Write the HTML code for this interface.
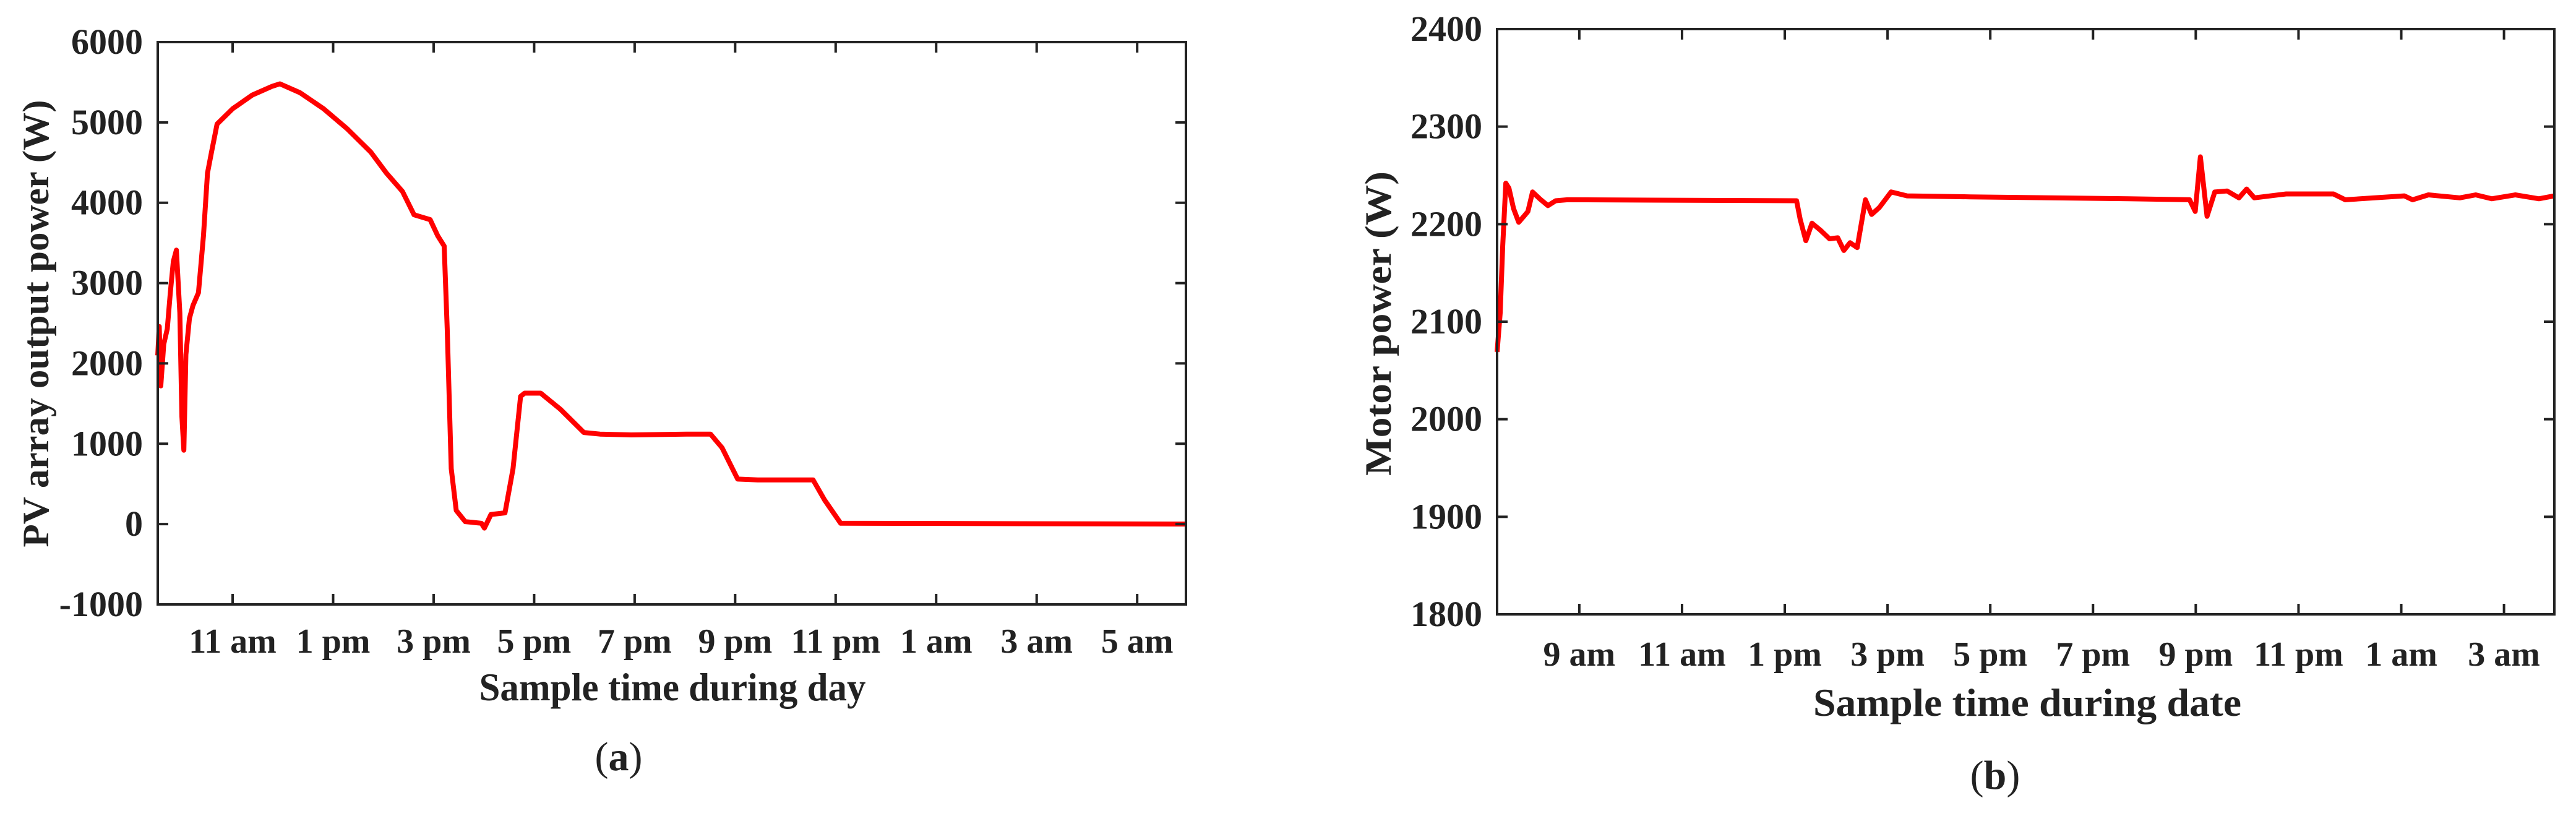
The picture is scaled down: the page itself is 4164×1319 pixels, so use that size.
<!DOCTYPE html>
<html><head><meta charset="utf-8"><style>
html,body{margin:0;padding:0;background:#fff;}
svg{display:block;}
text{font-family:"Liberation Serif",serif;fill:#222;}
</style></head><body>
<svg id="fig" width="4164" height="1319" viewBox="0 0 4164 1319" xmlns="http://www.w3.org/2000/svg">
<g id="chartA"></g>
<g id="chartB"></g>
</svg>
<script>
// Chart (a): PV array output power
const pvHours = [9.51,9.54,9.57,9.63,9.70,9.76,9.82,9.88,9.95,9.99,10.03,10.07,10.14,10.21,10.32,10.42,10.50,10.58,10.69,11.0,11.39,11.79,11.94,12.34,12.81,13.28,13.75,14.06,14.38,14.61,14.93,15.08,15.21,15.27,15.35,15.45,15.63,15.95,16.01,16.14,16.42,16.58,16.73,16.81,17.13,17.52,17.99,18.31,18.93,20.03,20.51,20.74,21.05,21.45,22.55,22.78,23.10,29.96];
const pvWatts = [2100,2460,1720,2240,2430,2880,3270,3410,2630,1340,920,2110,2560,2720,2880,3590,4370,4630,4980,5170,5340,5450,5480,5370,5170,4920,4630,4370,4140,3850,3790,3590,3460,2430,690,170,30,10,-50,120,140,690,1590,1630,1630,1430,1140,1120,1110,1120,1120,950,560,550,550,300,10,0];
const pvXTickHours = [11,13,15,17,19,21,23,25,27,29];
const pvXTickLabels = ["11 am","1 pm","3 pm","5 pm","7 pm","9 pm","11 pm","1 am","3 am","5 am"];
const pvYTicks = [-1000,0,1000,2000,3000,4000,5000,6000];

// Chart (b): Motor power
const motorHours = [7.40,7.46,7.51,7.57,7.63,7.72,7.82,7.92,8.0,8.09,8.23,8.39,8.54,8.77,13.23,13.30,13.41,13.53,13.69,13.87,14.03,14.15,14.27,14.41,14.57,14.69,14.84,15.07,15.38,16.61,19.68,20.88,20.99,21.09,21.22,21.37,21.61,21.84,21.99,22.14,22.76,23.68,23.91,25.06,25.22,25.53,26.14,26.45,26.76,27.22,27.68,27.98];
const motorWatts = [2069,2109,2178,2242,2237,2216,2202,2208,2213,2233,2226,2219,2224,2225,2224,2205,2183,2201,2194,2185,2186,2173,2181,2176,2225,2210,2217,2233,2229,2228,2226,2225,2213,2269,2208,2233,2234,2227,2236,2227,2231,2231,2225,2229,2225,2230,2227,2230,2226,2230,2226,2229];
const motorXTickHours = [9,11,13,15,17,19,21,23,25,27];
const motorXTickLabels = ["9 am","11 am","1 pm","3 pm","5 pm","7 pm","9 pm","11 pm","1 am","3 am"];
const motorYTicks = [1800,1900,2000,2100,2200,2300,2400];

const NS="http://www.w3.org/2000/svg";
function mk(parent,tag,attrs){const e=document.createElementNS(NS,tag);for(const k in attrs)e.setAttribute(k,attrs[k]);parent.appendChild(e);return e;}

function drawChart(g,cfg){
  const {L,R,T,B,x0,x1,y0,y1}=cfg;
  const sx=h=>L+(h-x0)/(x1-x0)*(R-L);
  const sy=v=>B-(v-y0)/(y1-y0)*(B-T);
  // series
  let d="";
  cfg.xs.forEach((h,i)=>{d+=(i?"L":"M")+sx(h).toFixed(1)+","+sy(cfg.ys[i]).toFixed(1);});
  const line=mk(g,"path",{d:d,fill:"none",stroke:"#ff0000","stroke-width":8,"stroke-linejoin":"round"});
  
  
  // frame
  const fr=mk(g,"rect",{x:L,y:T,width:R-L,height:B-T,fill:"none",stroke:"#222","stroke-width":4});
  
  
  // x ticks
  cfg.xt.forEach((h,i)=>{
    const x=sx(h);
    const t=mk(g,"path",{d:`M${x},${B}V${B-17}M${x},${T}V${T+17}`,stroke:"#222","stroke-width":4});
    
    
    const lb=mk(g,"text",{x:x,y:cfg.xlabY,"text-anchor":"middle","font-size":56,"font-weight":"bold"});
    lb.textContent=cfg.xl[i];
    
    
  });
  cfg.yt.forEach(v=>{
    const y=sy(v);
    const t=mk(g,"path",{d:`M${L},${y}H${L+17}M${R},${y}H${R-17}`,stroke:"#222","stroke-width":4});
    
    
    const lb=mk(g,"text",{x:L-24,y:y+19,"text-anchor":"end","font-size":58,"font-weight":"bold"});
    lb.textContent=String(v);
    
    
  });
  const xt=mk(g,"text",{x:cfg.xtX,y:cfg.xtY,"text-anchor":"middle","font-size":64,"font-weight":"bold",textLength:cfg.xtLen,lengthAdjust:"spacingAndGlyphs"});
  xt.textContent=cfg.xtitle;
  
  
  const yt=mk(g,"text",{x:0,y:0,"text-anchor":"middle","font-size":60,"font-weight":"bold",textLength:cfg.ytLen,lengthAdjust:"spacingAndGlyphs",transform:`translate(${cfg.ytX},${cfg.ytY}) rotate(-90)`});
  yt.textContent=cfg.ytitle;
  
  
  const cap=mk(g,"text",{x:cfg.capX,y:cfg.capY,"text-anchor":"middle","font-size":66});
  cap.innerHTML='(<tspan font-weight="bold">'+cfg.cap+'</tspan>)';
  
  
}

drawChart(document.getElementById("chartA"),{
  L:255,R:1917,T:68,B:977,x0:9.51,x1:29.97,y0:-1000,y1:6000,
  xs:pvHours,ys:pvWatts,xt:pvXTickHours,xl:pvXTickLabels,yt:pvYTicks,xlabY:1055,
  xtitle:"Sample time during day",xtX:1087,xtY:1132,xtLen:625,
  ytitle:"PV array output power (W)",ytX:78,ytY:523,ytLen:723,
  cap:"a",capX:1000,capY:1245
});
drawChart(document.getElementById("chartB"),{
  L:2420,R:4129,T:47,B:993,x0:7.40,x1:27.98,y0:1800,y1:2400,
  xs:motorHours,ys:motorWatts,xt:motorXTickHours,xl:motorXTickLabels,yt:motorYTicks,xlabY:1076,
  xtitle:"Sample time during date",xtX:3277,xtY:1157,xtLen:692,
  ytitle:"Motor power (W)",ytX:2248,ytY:523,ytLen:492,
  cap:"b",capX:3225,capY:1275
});
</script>
</body></html>
